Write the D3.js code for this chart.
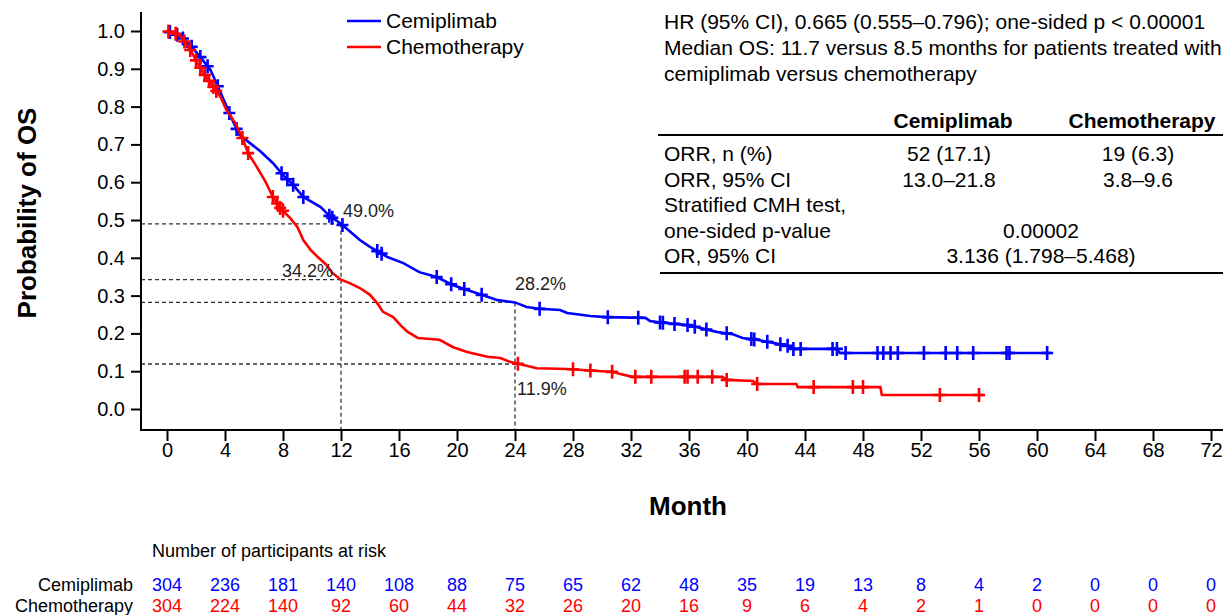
<!DOCTYPE html>
<html>
<head>
<meta charset="utf-8">
<script src="https://cdn.jsdelivr.net/npm/d3@7"></script>
<style>
  html, body { margin: 0; padding: 0; background: #fff; }
  svg { display: block; font-family: "Liberation Sans", Arial, Helvetica, sans-serif; }
</style>
</head>
<body>
<svg id="chart" width="1223" height="615"></svg>
<script>
// ---------------- data ----------------
const monthTicks = [0,4,8,12,16,20,24,28,32,36,40,44,48,52,56,60,64,68,72];
const yTicks = [0.0,0.1,0.2,0.3,0.4,0.5,0.6,0.7,0.8,0.9,1.0];

const cemiTime = [0,0.9,1.6,2.3,3.0,3.5,4.0,4.5,5.0,5.7,6.4,7.3,8.0,8.7,9.4,10.6,11.2,12.0,13.3,14.0,15.2,16.3,17.4,18.6,19.7,20.7,21.7,22.8,24.0,24.8,25.7,27.1,27.6,29.2,30.3,33.0,33.3,34.2,35.9,36.8,37.9,39.0,39.7,40.7,41.8,42.8,43.2,46.2,46.4,61.0];
const cemiSurv = [1.000,0.987,0.963,0.931,0.897,0.854,0.810,0.765,0.725,0.704,0.683,0.651,0.619,0.593,0.561,0.534,0.511,0.490,0.447,0.429,0.402,0.386,0.362,0.349,0.328,0.315,0.302,0.288,0.282,0.270,0.265,0.262,0.254,0.246,0.243,0.241,0.233,0.228,0.222,0.214,0.204,0.198,0.188,0.183,0.175,0.167,0.159,0.159,0.148,0.148];
const cemiCensor = [0.2,0.7,1.1,1.7,2.3,2.8,3.5,4.3,4.8,7.9,8.3,8.7,9.4,11.2,11.4,12.1,14.5,14.8,18.6,19.6,20.5,21.7,25.7,30.4,32.5,34.0,34.2,35.0,35.9,36.4,37.2,38.6,40.3,40.5,41.4,42.3,42.8,43.2,43.7,45.9,46.2,46.8,49.0,49.4,49.9,50.4,52.2,53.7,54.5,55.6,57.9,58.1,60.7];

const chemoTime = [0,0.9,1.7,2.1,2.6,3.2,3.7,4.1,4.7,5.2,5.6,6.2,6.8,7.3,7.8,8.5,9.0,9.4,9.9,10.4,11.0,11.4,12.0,12.6,13.3,14.0,14.5,14.9,15.6,16.1,16.6,17.3,18.8,19.7,20.7,22.1,23.0,23.7,24.3,25.5,27.6,30.8,31.2,32.1,38.3,38.6,40.4,40.7,43.4,43.5,49.2,49.3,56.3];
const chemoSurv = [1.000,0.989,0.944,0.915,0.884,0.852,0.825,0.791,0.757,0.717,0.677,0.640,0.601,0.561,0.532,0.505,0.481,0.447,0.421,0.402,0.381,0.360,0.342,0.333,0.320,0.302,0.280,0.257,0.243,0.222,0.204,0.188,0.183,0.164,0.151,0.138,0.135,0.124,0.119,0.108,0.106,0.098,0.093,0.085,0.085,0.077,0.074,0.066,0.066,0.058,0.058,0.037,0.037];
const chemoCensor = [0.1,0.6,1.2,1.6,2.0,2.3,2.6,2.9,3.2,3.4,5.2,5.6,7.3,7.6,7.8,8.0,24.2,28.0,29.2,30.7,32.3,33.4,35.7,35.9,36.6,37.6,38.6,40.7,44.6,47.3,48.0,53.3,56.0];

const atRiskCemi  = [304,236,181,140,108,88,75,65,62,48,35,19,13,8,4,2,0,0,0];
const atRiskChemo = [304,224,140,92,60,44,32,26,20,16,9,6,4,2,1,0,0,0,0];

const medians = [ {t:12, cemi:0.490, chemo:0.342}, {t:24, cemi:0.282, chemo:0.119} ];

const seriesNames = ["Cemiplimab","Chemotherapy"];
const seriesColors = ["#0000FF","#FF0000"];

const annotLines = [
  "HR (95% CI), 0.665 (0.555\u20130.796); one-sided p < 0.00001",
  "Median OS: 11.7 versus 8.5 months for patients treated with",
  "cemiplimab versus chemotherapy"
];
const tableHeader = ["", "Cemiplimab", "Chemotherapy"];
const tableRows = [
  ["ORR, n (%)", "52 (17.1)", "19 (6.3)"],
  ["ORR, 95% CI", "13.0\u201321.8", "3.8\u20139.6"],
  ["Stratified CMH test,", "", ""],
  ["one-sided p-value", "0.00002", null],
  ["OR, 95% CI", "3.136 (1.798\u20135.468)", null]
];

// ---------------- drawing ----------------
const svg = d3.select("#chart");
const x = d3.scaleLinear().domain([0,72]).range([167,1211]);
const y = d3.scaleLinear().domain([0,1]).range([409,31]);
const axisX0 = 141, axisY0 = 430;

// dashed median reference lines
const dash = svg.append("g").attr("stroke","#333").attr("stroke-width",1.3).attr("stroke-dasharray","4,3").attr("fill","none");
medians.forEach(m => {
  const yTop = Math.min(y(m.cemi), y(m.chemo));
  dash.append("line").attr("x1",axisX0).attr("x2",x(m.t)).attr("y1",y(m.cemi)).attr("y2",y(m.cemi));
  dash.append("line").attr("x1",axisX0).attr("x2",x(m.t)).attr("y1",y(m.chemo)).attr("y2",y(m.chemo));
  dash.append("line").attr("x1",x(m.t)).attr("x2",x(m.t)).attr("y1",yTop).attr("y2",axisY0);
});

// axes
const gx = svg.append("g").attr("transform",`translate(0,${axisY0})`)
  .call(d3.axisBottom(x).tickValues(monthTicks).tickSize(11).tickPadding(2).tickSizeOuter(0));
gx.select(".domain").remove();
gx.selectAll(".tick line").attr("stroke","#000").attr("stroke-width",2);
gx.selectAll(".tick text").attr("font-size",20).attr("fill","#000").attr("font-family","Liberation Sans, Arial, sans-serif");

const gy = svg.append("g").attr("transform",`translate(${axisX0},0)`)
  .call(d3.axisLeft(y).tickValues(yTicks).tickFormat(d3.format(".1f")).tickSize(10).tickPadding(6).tickSizeOuter(0));
gy.select(".domain").remove();
gy.selectAll(".tick line").attr("stroke","#000").attr("stroke-width",2);
gy.selectAll(".tick text").attr("font-size",20).attr("fill","#000").attr("font-family","Liberation Sans, Arial, sans-serif");

svg.append("line").attr("x1",axisX0).attr("x2",1223).attr("y1",axisY0).attr("y2",axisY0).attr("stroke","#000").attr("stroke-width",2);
svg.append("line").attr("x1",axisX0).attr("x2",axisX0).attr("y1",12).attr("y2",axisY0+1).attr("stroke","#000").attr("stroke-width",2);

// axis titles
svg.append("text").attr("x",688).attr("y",515).attr("text-anchor","middle")
  .attr("font-size",26).attr("font-weight","bold").text("Month");
svg.append("text").attr("transform","translate(36,213) rotate(-90)").attr("text-anchor","middle")
  .attr("font-size",26).attr("font-weight","bold").text("Probability of OS");

// KM curves
const series = [
  {t:cemiTime, s:cemiSurv, c:cemiCensor},
  {t:chemoTime, s:chemoSurv, c:chemoCensor}
];
const line = d3.line().x(d=>x(d[0])).y(d=>y(d[1])).curve(d3.curveLinear);
function survAt(ser, t){
  const i = d3.bisectRight(ser.t, t);
  if (i <= 0) return ser.s[0];
  if (i >= ser.t.length) return ser.s[ser.s.length-1];
  const t0 = ser.t[i-1], t1 = ser.t[i];
  const f = (t - t0) / (t1 - t0);
  return ser.s[i-1] + f * (ser.s[i] - ser.s[i-1]);
}
[0,1].forEach(k => {
  const ser = series[k];
  const pts = ser.t.map((t,i)=>[t, ser.s[i]]);
  const g = svg.append("g");
  g.append("path").attr("d", line(pts)).attr("fill","none").attr("stroke",seriesColors[k])
    .attr("stroke-width",2.6).attr("stroke-linejoin","miter");
  g.selectAll("path.cross").data(ser.c).enter().append("path").attr("class","cross")
    .attr("d", d => {
      const cx = x(d), cy = y(survAt(ser,d));
      return `M${cx-6},${cy}H${cx+6}M${cx},${cy-7}V${cy+7}`;
    })
    .attr("stroke",seriesColors[k]).attr("stroke-width",2.6).attr("fill","none");
});

// percentage labels
const pctLabels = [
  {t:"49.0%", x:x(12)+2, y:217, a:"start"},
  {t:"34.2%", x:x(12)-8, y:277, a:"end"},
  {t:"28.2%", x:x(24), y:290, a:"start"},
  {t:"11.9%", x:x(24)+2, y:395, a:"start"}
];
svg.selectAll("text.pct").data(pctLabels).enter().append("text").attr("class","pct")
  .attr("x",d=>d.x).attr("y",d=>d.y).attr("text-anchor",d=>d.a).attr("font-size",18).attr("fill","#222").text(d=>d.t);

// legend
seriesNames.forEach((n,i) => {
  const ly = 21 + i*26;
  svg.append("line").attr("x1",347).attr("x2",381).attr("y1",ly).attr("y2",ly).attr("stroke",seriesColors[i]).attr("stroke-width",2.6);
  svg.append("text").attr("x",386).attr("y",ly+7).attr("font-size",21).attr("fill","#000").text(n);
});

// annotation text
annotLines.forEach((t,i) => {
  svg.append("text").attr("x",664).attr("y",29 + i*26).attr("font-size",21).attr("fill","#000").text(t);
});

// table
const colX = [664, 953, 1142];
const spanX = 1041;
svg.append("text").attr("x",colX[1]).attr("y",128).attr("text-anchor","middle").attr("font-size",21).attr("font-weight","bold").text(tableHeader[1]);
svg.append("text").attr("x",colX[2]).attr("y",128).attr("text-anchor","middle").attr("font-size",21).attr("font-weight","bold").text(tableHeader[2]);
svg.append("line").attr("x1",658).attr("x2",1223).attr("y1",135).attr("y2",135).attr("stroke","#000").attr("stroke-width",2);
svg.append("line").attr("x1",660).attr("x2",1223).attr("y1",273).attr("y2",273).attr("stroke","#000").attr("stroke-width",2);
tableRows.forEach((r,i) => {
  const ty = 161 + i*25.5;
  svg.append("text").attr("x",colX[0]).attr("y",ty).attr("font-size",21).text(r[0]);
  if (r[2] === null) {
    svg.append("text").attr("x",spanX).attr("y",ty).attr("text-anchor","middle").attr("font-size",21).text(r[1]);
  } else {
    if (r[1]) svg.append("text").attr("x",colX[1]-4).attr("y",ty).attr("text-anchor","middle").attr("font-size",21).text(r[1]);
    if (r[2]) svg.append("text").attr("x",colX[2]-4).attr("y",ty).attr("text-anchor","middle").attr("font-size",21).text(r[2]);
  }
});

// number at risk
svg.append("text").attr("x",152).attr("y",557).attr("font-size",18).attr("fill","#000").text("Number of participants at risk");
[atRiskCemi, atRiskChemo].forEach((arr,k) => {
  const ry = 591 + k*21;
  svg.append("text").attr("x",133).attr("y",ry).attr("text-anchor","end").attr("font-size",18).attr("fill","#000").text(seriesNames[k]);
  svg.selectAll(null).data(arr).enter().append("text")
    .attr("x",(d,i)=>x(monthTicks[i])).attr("y",ry).attr("text-anchor","middle")
    .attr("font-size",18).attr("fill",seriesColors[k]).text(d=>d);
});
</script>
</body>
</html>
